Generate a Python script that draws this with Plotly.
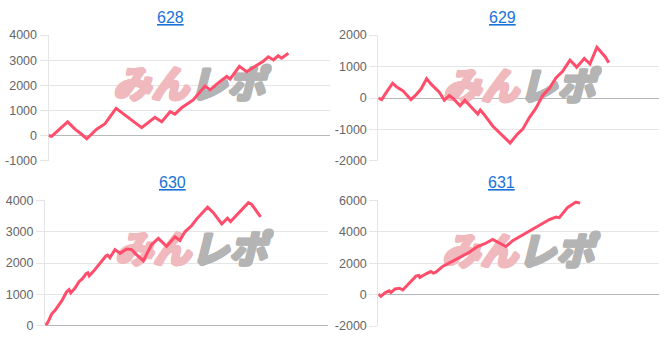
import plotly.graph_objects as go

# ---- data (x: position along session, 0-100; y: cumulative difference) ----
x628 = [0, 1.1, 6.8, 9.4, 11.2, 13.6, 17.1, 20.1, 24.0, 27.8, 33.1, 37.8, 40.2, 43.2, 44.9, 47.3,
        51.4, 55.6, 57.4, 60.3, 63.3, 64.5, 67.8, 70.4, 72.2, 73.9, 76.3, 78.1, 79.9, 81.6, 82.8, 85.2]
y628 = [0, -30, 545, 255, 100, -127, 255, 470, 1080, 760, 317, 724, 545, 950, 850, 1105,
        1420, 1970, 1816, 2095, 2350, 2248, 2754, 2540, 2667, 2760, 2960, 3135, 3010, 3175, 3080, 3276]

x629 = [0, 1.2, 2.5, 5.1, 6.7, 7.5, 8.7, 11.6, 13.4, 15.2, 17.2, 18.8, 21.7, 23.5, 25.3, 26.7,
        29.1, 30.8, 32.4, 35.4, 36.3, 37.7, 40.7, 44.3, 46.9, 49.6, 51.4, 53.7, 56.1, 58.5,
        60.9, 63.2, 65.6, 68.2, 70.6, 73.3, 75.3, 77.8, 79.2, 80.8, 82.0]
y629 = [0, -50, 130, 470, 340, 300, 235, -50, 100, 285, 612, 440, 185, -70, 80, -20,
        -245, -70, -225, -510, -380, -530, -890, -1195, -1430, -1140, -990, -630, -325, 80,
        305, 640, 850, 1205, 980, 1255, 1080, 1610, 1460, 1305, 1120]

x630 = [0.2, 0.9, 2.4, 3.5, 5.9, 7.6, 8.5, 9.1, 10.6, 12.0, 13.3, 14.5, 15.1, 15.6, 17.1, 18.8,
        20.4, 21.5, 22.1, 22.9, 24.7, 26.5, 28.8, 30.6, 31.8, 34.7, 37.6, 40.0, 42.9, 45.9,
        47.6, 49.4, 51.8, 53.5, 57.4, 59.4, 62.4, 64.4, 65.5, 68.2, 71.8, 73.0, 74.7, 76.1]
y630 = [20, 90, 380, 480, 790, 1077, 1150, 1045, 1200, 1405, 1510, 1660, 1690, 1590, 1735, 1920,
        2125, 2225, 2255, 2170, 2430, 2310, 2450, 2430, 2310, 2075, 2585, 2790, 2535, 2840,
        2720, 3000, 3200, 3405, 3785, 3610, 3250, 3435, 3330, 3580, 3930, 3870, 3660, 3475]

x631 = [0, 0.9, 2.5, 3.9, 4.5, 6.0, 7.5, 8.7, 9.8, 11.6, 13.4, 14.4, 14.8, 17.0, 18.7, 19.6,
        20.5, 22.9, 27.6, 32.4, 35.3, 37.7, 40.7, 43.1, 45.4, 47.8, 50.2, 53.7, 58.5, 60.9,
        63.2, 64.4, 67.4, 70.3, 71.8]
y631 = [40, -100, 140, 245, 140, 370, 410, 305, 510, 820, 1185, 1230, 1105, 1330, 1475, 1370,
        1430, 1800, 2250, 2700, 3070, 3230, 3520, 3315, 3070, 3440, 3680, 4050, 4500, 4790,
        4950, 4910, 5560, 5900, 5830]

titles = ["628", "629", "630", "631"]
ticks628 = [-1000, 0, 1000, 2000, 3000, 4000]
ticks629 = [-2000, -1000, 0, 1000, 2000]
ticks630 = [0, 1000, 2000, 3000, 4000]
ticks631 = [-2000, 0, 2000, 4000, 6000]
watermark_left = "みん"
watermark_right = "レポ"

W, H = 672, 341
LINE = "#ff4d6b"
GRID = "rgba(0,0,0,0.1)"
ZERO = "rgba(0,0,0,0.28)"
PINK = "#f0b9bd"
GRAY = "#b4b4b4"

# panel boxes in pixels: (left, right, top, bottom)
boxes = [(48.5, 330, 30, 161), (378.3, 659.3, 30, 161.3),
         (45, 328.3, 202, 332.5), (378.3, 659.3, 202, 333)]
title_pos = [(170, 12), (502, 12), (172, 183), (501, 183)]
wm_pos = [(189, 86), (519, 88), (191, 257), (518, 259)]

series = [(x628, y628, ticks628), (x629, y629, ticks629),
          (x630, y630, ticks630), (x631, y631, ticks631)]


def faux_bold(c):
    return (f"1px 0 0 {c}, -1px 0 0 {c}, 0 1px 0 {c}, 0 -1px 0 {c}, "
            f"1px 1px 0 {c}, -1px -1px 0 {c}, 1px -1px 0 {c}, -1px 1px 0 {c}")


fig = go.Figure()
layout = dict(width=W, height=H, margin=dict(l=0, r=0, t=0, b=0),
              paper_bgcolor="white", plot_bgcolor="white", showlegend=False,
              font=dict(family="Liberation Sans, Arial, sans-serif", color="#666666", size=12))
annotations = []
XR = [0, 100]
for i, ((xs, ys, tks), (l, r, t, b)) in enumerate(zip(series, boxes)):
    n = i + 1
    xa = "x" if n == 1 else f"x{n}"
    ya = "y" if n == 1 else f"y{n}"
    span = tks[-1] - tks[0]
    pad = span * 0.0015
    yr = [tks[0] - pad, tks[-1] + pad]

    # watermark (beneath the line): place via axis fractions
    wx, wy = wm_pos[i]
    fx = (wx - l) / (r - l)
    fy = (b - wy) / (b - t)
    cx = XR[0] + fx * (XR[1] - XR[0])
    cy = yr[0] + fy * (yr[1] - yr[0])
    for txt, pos, col in [(watermark_left, "middle left", PINK),
                          (watermark_right, "middle right", GRAY)]:
        fig.add_trace(go.Scatter(
            x=[cx], y=[cy], mode="text", text=[txt], textposition=pos,
            xaxis=xa, yaxis=ya, hoverinfo="skip", cliponaxis=False,
            textfont=dict(size=38, color=col, family="Noto Sans CJK JP, sans-serif",
                          weight=900, style="italic", shadow=faux_bold(col))))

    fig.add_trace(go.Scatter(x=xs, y=ys, mode="lines", xaxis=xa, yaxis=ya,
                             line=dict(color=LINE, width=3), hoverinfo="skip"))
    layout[f"xaxis{'' if n == 1 else n}"] = dict(
        domain=[l / W, r / W], range=XR, anchor=ya,
        showgrid=False, zeroline=False, showline=False, showticklabels=False, ticks="")
    layout[f"yaxis{'' if n == 1 else n}"] = dict(
        domain=[1 - b / H, 1 - t / H], range=yr, anchor=xa,
        tickvals=tks, ticktext=[str(v) for v in tks],
        showgrid=True, gridcolor=GRID, gridwidth=1,
        zeroline=True, zerolinecolor=ZERO, zerolinewidth=1,
        showline=True, linecolor=GRID, linewidth=1,
        ticks="outside", ticklen=8, tickcolor=GRID, ticklabelstandoff=0,
        tickfont=dict(size=12.5, color="#666666"))
    tx, ty = title_pos[i]
    annotations.append(dict(text=f"<u>{titles[i]}</u>", x=tx / W, y=1 - ty / H,
                            xref="paper", yref="paper", showarrow=False,
                            xanchor="center", yanchor="middle",
                            font=dict(size=16, color="#1a73d8",
                                      family="Liberation Sans, Arial, sans-serif")))

layout["annotations"] = annotations
fig.update_layout(**layout)
fig.write_html("out.html")
